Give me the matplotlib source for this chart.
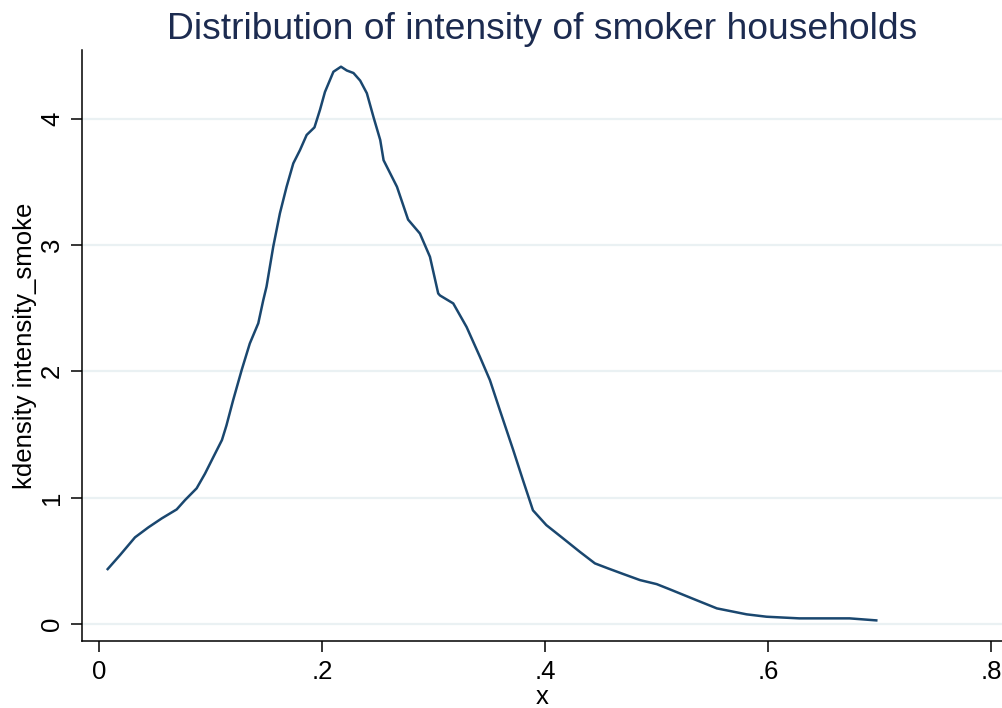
import numpy as np
import matplotlib
matplotlib.use('Agg')
import matplotlib.pyplot as plt

plt.rcParams['font.family'] = ['Liberation Sans', 'DejaVu Sans']

# kernel density estimate
x = [0.0075, 0.0186, 0.032, 0.044, 0.056, 0.0694, 0.0769, 0.0873, 0.0948, 0.1022,
     0.110, 0.114, 0.120, 0.1277, 0.135, 0.1426, 0.147, 0.150, 0.156, 0.162,
     0.168, 0.174, 0.180, 0.186, 0.193, 0.198, 0.2024, 0.210, 0.2168, 0.222,
     0.228, 0.234, 0.240, 0.246, 0.252, 0.255, 0.267, 0.277, 0.2876, 0.2966,
     0.304, 0.3056, 0.3175, 0.3295, 0.3414, 0.3504, 0.3594, 0.3713, 0.380, 0.389,
     0.401, 0.416, 0.431, 0.4446, 0.4565, 0.470, 0.485, 0.500, 0.512, 0.534,
     0.554, 0.5806, 0.5986, 0.628, 0.658, 0.673, 0.697]
density = [0.435, 0.546, 0.686, 0.765, 0.836, 0.907, 0.981, 1.074, 1.19, 1.32,
           1.456, 1.57, 1.77, 2.01, 2.22, 2.38, 2.56, 2.67, 2.985, 3.25,
           3.46, 3.645, 3.75, 3.87, 3.93, 4.07, 4.21, 4.37, 4.41, 4.38,
           4.36, 4.30, 4.20, 4.01, 3.83, 3.67, 3.46, 3.20, 3.09, 2.906,
           2.616, 2.60, 2.537, 2.35, 2.115, 1.93, 1.69, 1.377, 1.14, 0.90,
           0.783, 0.678, 0.572, 0.48, 0.44, 0.396, 0.348, 0.316, 0.274, 0.195,
           0.124, 0.077, 0.058, 0.045, 0.045, 0.045, 0.029]

xticks = [0, 0.2, 0.4, 0.6, 0.8]
xlabels = ['0', '.2', '.4', '.6', '.8']
yticks = [0, 1, 2, 3, 4]

fig = plt.figure(figsize=(10.03, 7.08), dpi=100)
ax = fig.add_axes([0.0818, 0.095, 0.918, 0.834])

for yv in yticks:
    ax.axhline(yv, color='#eaf1f3', lw=1.6, zorder=0)

ax.plot(x, density, color='#1a476f', lw=1.8)

ax.set_xlim(-0.0155, 0.8105)
ax.set_ylim(-0.132, 4.54)
ax.set_xticks(xticks)
ax.set_xticklabels(xlabels)
ax.set_yticks(yticks)
ax.set_yticklabels([str(v) for v in yticks], rotation=90, va='center')

for s in ['top', 'right']:
    ax.spines[s].set_visible(False)
for s in ['left', 'bottom']:
    ax.spines[s].set_linewidth(1.1)

ax.tick_params(axis='both', direction='out', length=8, width=1.1, labelsize=18.5, pad=5)
ax.tick_params(axis='x', pad=6)

ax.set_ylabel('kdensity intensity_smoke', fontsize=18.5, labelpad=2)
ax.set_title('Distribution of intensity of smoker households', fontsize=26.8,
             color='#1c2b50', pad=8)
# x label sits tight under the tick labels, as in the original
fig.text(0.5403, 0.005, 'x', fontsize=18.5, ha='center', va='baseline')

plt.savefig('out.png', dpi=100)
